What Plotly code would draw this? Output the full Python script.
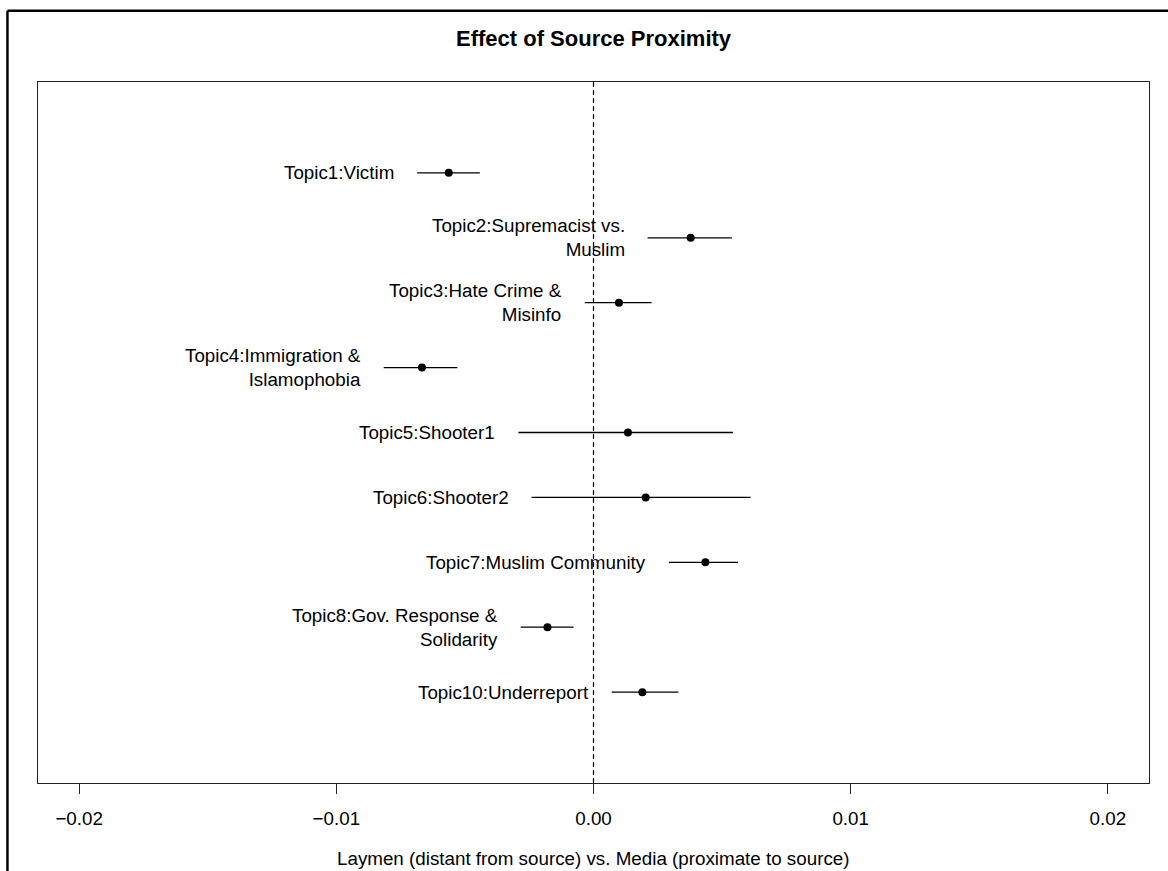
import plotly.graph_objects as go

topics = [
    "Topic1:Victim",
    "Topic2:Supremacist vs.<br>Muslim",
    "Topic3:Hate Crime &<br>Misinfo",
    "Topic4:Immigration &<br>Islamophobia",
    "Topic5:Shooter1",
    "Topic6:Shooter2",
    "Topic7:Muslim Community",
    "Topic8:Gov. Response &<br>Solidarity",
    "Topic10:Underreport",
]
estimate = [-0.00563, 0.00378, 0.00099, -0.00667, 0.00134, 0.00203, 0.00435, -0.00179, 0.00190]
ci_lower = [-0.00686, 0.00210, -0.00034, -0.00816, -0.00292, -0.00241, 0.00293, -0.00283, 0.00071]
ci_upper = [-0.00442, 0.00538, 0.00226, -0.00529, 0.00542, 0.00611, 0.00562, -0.00077, 0.00330]
tick_vals = [-0.02, -0.01, 0.0, 0.01, 0.02]

n = len(topics)
ypos = [n - i for i in range(n)]

FONT = "Liberation Sans, Arial, sans-serif"

fig = go.Figure()

for i in range(n):
    fig.add_trace(go.Scatter(
        x=[ci_lower[i], ci_upper[i]], y=[ypos[i], ypos[i]],
        mode="lines", line=dict(color="black", width=1.3),
        showlegend=False, hoverinfo="skip",
    ))

fig.add_trace(go.Scatter(
    x=estimate, y=ypos, mode="markers",
    marker=dict(color="black", size=8),
    showlegend=False,
))

annotations = []
for i in range(n):
    annotations.append(dict(
        x=ci_lower[i], y=ypos[i], xref="x", yref="y",
        text=topics[i], showarrow=False, xanchor="right", yanchor="middle",
        align="right", xshift=-21, font=dict(family=FONT, size=18.8, color="black"),
    ))

annotations.append(dict(
    x=0.5, y=0, xref="paper", yref="paper", yshift=-75,
    text="Laymen (distant from source) vs. Media (proximate to source)",
    showarrow=False, xanchor="center", yanchor="middle",
    font=dict(family=FONT, size=18.8, color="black"),
))
annotations.append(dict(
    x=0.5, y=1, xref="paper", yref="paper", yshift=44,
    text="<b>Effect of Source Proximity</b>",
    showarrow=False, xanchor="center", yanchor="middle",
    font=dict(family=FONT, size=22, color="black"),
))

shapes = [
    dict(type="line", xref="x", yref="paper", x0=0, x1=0, y0=0, y1=1,
         line=dict(color="black", width=1.2, dash="5px,3px")),
    dict(type="line", xref="paper", yref="paper", x0=-0.0275, x1=1.05, y0=1.1018, y1=1.1018,
         line=dict(color="black", width=2.5)),
    dict(type="line", xref="paper", yref="paper", x0=-0.0275, x1=-0.0275, y0=-0.2, y1=1.1018,
         line=dict(color="black", width=2.5)),
]

fig.update_layout(
    width=1168, height=871,
    margin=dict(l=38, r=19, t=82, b=88),
    paper_bgcolor="white", plot_bgcolor="white",
    font=dict(family=FONT, size=18.8, color="black"),
    annotations=annotations, shapes=shapes,
    xaxis=dict(
        range=[-0.0216, 0.0216], tickvals=tick_vals, tickformat=".2f",
        showgrid=False, zeroline=False, showline=True, mirror=True,
        linecolor="#222", linewidth=1.3, ticks="outside", ticklen=10,
        tickcolor="#222", tickwidth=1.3, ticklabelstandoff=8,
        tickfont=dict(family=FONT, size=18.8, color="black"),
    ),
    yaxis=dict(
        range=[-0.4, 10.4], showticklabels=False, ticks="", showgrid=False,
        zeroline=False, showline=True, mirror=True, linecolor="#222", linewidth=1.3,
    ),
)

fig.write_html("out.html")
